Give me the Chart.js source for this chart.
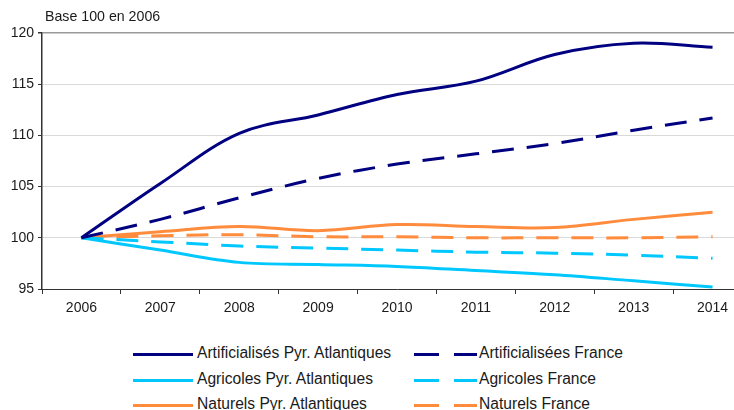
<!DOCTYPE html>
<html>
<head>
<meta charset="utf-8">
<script src="https://cdn.jsdelivr.net/npm/chart.js@4/dist/chart.umd.min.js"></script>
<style>
  html, body { margin: 0; padding: 0; background: #fff; overflow: hidden; width: 734px; height: 410px; }
  #wrap { position: relative; width: 734px; height: 410px; overflow: hidden; }
  #chart { position: absolute; left: 0; top: 0; }
  .leg { position: absolute; font-family: "Liberation Sans", Arial, sans-serif; font-size: 15.6px; color: #1a1a1a; white-space: nowrap; }
  .sw { position: absolute; height: 3px; }
</style>
</head>
<body>
<div id="wrap">
  <canvas id="chart" width="752" height="320" style="width:752px;height:320px"></canvas>
  <div id="legend"></div>
</div>
<script>
const years = ['2006', '2007', '2008', '2009', '2010', '2011', '2012', '2013', '2014'];
const artifPyr = [100, 105.3, 110.2, 112.0, 114.0, 115.3, 117.9, 119.0, 118.6];
const artifFrance = [100, 101.8, 103.9, 105.8, 107.2, 108.2, 109.2, 110.5, 111.7];
const agriPyr = [100, 98.8, 97.6, 97.4, 97.2, 96.8, 96.4, 95.8, 95.2];
const agriFrance = [100, 99.6, 99.2, 99.0, 98.8, 98.6, 98.5, 98.3, 98.0];
const natPyr = [100, 100.6, 101.1, 100.7, 101.3, 101.1, 101.0, 101.8, 102.5];
const natFrance = [100, 100.2, 100.3, 100.1, 100.1, 100.0, 100.0, 100.0, 100.1];

const navy = '#000080';
const cyan = '#00c8ff';
const orange = '#ff8b3d';

function serie(label, data, color, dashed) {
  return {
    label: label,
    data: data,
    borderColor: color,
    backgroundColor: color,
    borderWidth: 3,
    borderDash: dashed ? [22, 13] : [],
    pointRadius: 0,
    tension: 0.35,
    fill: false
  };
}

const datasets = [
  serie('Artificialisés Pyr. Atlantiques', artifPyr, navy, false),
  serie('Artificialisées France', artifFrance, navy, true),
  serie('Agricoles Pyr. Atlantiques', agriPyr, cyan, false),
  serie('Agricoles France', agriFrance, cyan, true),
  serie('Naturels Pyr. Atlantiques', natPyr, orange, false),
  serie('Naturels France', natFrance, orange, true)
];

const titlePlugin = {
  id: 'baseTitle',
  afterDraw(chart) {
    const ctx = chart.ctx;
    ctx.save();
    ctx.fillStyle = '#1a1a1a';
    ctx.font = '14.2px "Liberation Sans", Arial, sans-serif';
    ctx.textBaseline = 'middle';
    ctx.fillText('Base 100 en 2006', chart.chartArea.left + 3, 17);
    ctx.restore();
  }
};

const ctx = document.getElementById('chart');
const chart = new Chart(ctx, {
  type: 'line',
  data: { labels: years, datasets: datasets },
  options: {
    responsive: false,
    animation: false,
    layout: { padding: { top: 33, left: 0, right: 0, bottom: 1 } },
    plugins: {
      legend: { display: false },
      tooltip: { enabled: false }
    },
    scales: {
      x: {
        offset: true,
        grid: {
          offset: true,
          drawOnChartArea: false,
          drawTicks: true,
          tickLength: 5,
          color: '#333'
        },
        border: { color: '#333', width: 1 },
        ticks: {
          color: '#1a1a1a',
          padding: 6,
          maxRotation: 0,
          font: { family: '"Liberation Sans", Arial, sans-serif', size: 14 }
        },
        afterFit(scale) { scale.height = 30; }
      },
      y: {
        min: 95,
        max: 120,
        ticks: {
          stepSize: 5,
          color: '#1a1a1a',
          padding: 4,
          font: { family: '"Liberation Sans", Arial, sans-serif', size: 14 }
        },
        grid: {
          color: c => c.tick && c.tick.value === 120 ? '#999' : '#d9d9d9',
          lineWidth: c => c.tick && c.tick.value === 120 ? 1.5 : 1,
          tickColor: '#333',
          tickLength: 4
        },
        border: { color: '#333', width: 1.5 },
        afterFit(scale) { scale.width = 42; }
      }
    }
  },
  plugins: [titlePlugin]
});

// legend in two columns
const legend = document.getElementById('legend');
const rows = [354, 380, 405];
datasets.forEach((ds, i) => {
  const col = i % 2;
  const row = Math.floor(i / 2);
  const y = rows[row];
  if (col === 0) {
    const s = document.createElement('div');
    s.className = 'sw';
    s.style.left = '133px'; s.style.width = '60px';
    s.style.top = (y - 1.5) + 'px';
    s.style.background = ds.borderColor;
    legend.appendChild(s);
  } else {
    [[414, 25], [454, 23]].forEach(p => {
      const s = document.createElement('div');
      s.className = 'sw';
      s.style.left = p[0] + 'px'; s.style.width = p[1] + 'px';
      s.style.top = (y - 1.5) + 'px';
      s.style.background = ds.borderColor;
      legend.appendChild(s);
    });
  }
  const t = document.createElement('div');
  t.className = 'leg';
  t.textContent = ds.label;
  t.style.left = (col === 0 ? 197 : 479) + 'px';
  t.style.top = (y - 10) + 'px';
  legend.appendChild(t);
});
</script>
</body>
</html>
